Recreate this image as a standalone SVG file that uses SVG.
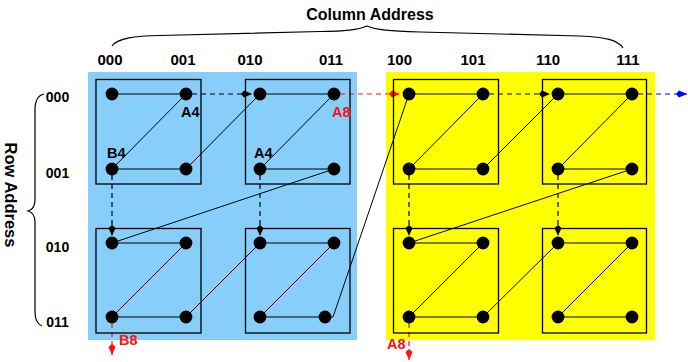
<svg xmlns="http://www.w3.org/2000/svg" width="688" height="362" viewBox="0 0 688 362">
<style>
text{font-family:"Liberation Sans",Arial,sans-serif;font-weight:bold;fill:#000}
.col{font-size:15px;text-anchor:middle}
.row{font-size:14px;text-anchor:middle}
.lbl{font-size:14.5px}
.red{fill:#ff1010}
.box{fill:none;stroke:#000;stroke-width:1.3}
.dot{fill:#000}
.ln{fill:none;stroke:#000;stroke-width:1}
.brace{fill:none;stroke:#000;stroke-width:1.2}
.dk{fill:none;stroke:#000;stroke-width:1.2;stroke-dasharray:5 4;marker-end:url(#ak)}
.dr{fill:none;stroke:#ff1010;stroke-width:1.2;stroke-dasharray:5 4;marker-end:url(#ar)}
.db{fill:none;stroke:#0000ff;stroke-width:1.2;stroke-dasharray:5 4;marker-end:url(#ab)}
</style>
<defs>
<marker id="ak" markerUnits="userSpaceOnUse" viewBox="-12 -5 13 10" refX="0" refY="0" markerWidth="13" markerHeight="10" orient="auto"><path d="M0,0 L-8,-3.5 L-11,0 L-8,3.5 Z" fill="#000"/></marker>
<marker id="ar" markerUnits="userSpaceOnUse" viewBox="-12 -5 13 10" refX="0" refY="0" markerWidth="13" markerHeight="10" orient="auto"><path d="M0,0 L-8,-3.5 L-11,0 L-8,3.5 Z" fill="#ff1010"/></marker>
<marker id="ab" markerUnits="userSpaceOnUse" viewBox="-12 -5 13 10" refX="0" refY="0" markerWidth="13" markerHeight="10" orient="auto"><path d="M0,0 L-8,-3.5 L-11,0 L-8,3.5 Z" fill="#0000ff"/></marker>
</defs>
<rect width="688" height="362" fill="#fff"/>
<g id="regions">
<rect x="88" y="72" width="269" height="268" fill="#87cefa"/>
<rect x="386" y="72" width="269" height="268" fill="#ffff00"/>
</g>
<g id="axes">
<text x="370" y="20" style="font-size:16px;text-anchor:middle">Column Address</text>
<path class="brace" d="M112,46 C118,38 135,36 160,35.5 L320,31.5 C345,31 358,30 367,26 C376,30 390,31 420,32 L580,36 C605,37 618,40 623,48"/>
<text class="col" x="110" y="65">000</text>
<text class="col" x="183" y="65">001</text>
<text class="col" x="250" y="65">010</text>
<text class="col" x="331" y="65">011</text>
<text class="col" x="399.5" y="65">100</text>
<text class="col" x="473" y="65">101</text>
<text class="col" x="548" y="65">110</text>
<text class="col" x="628" y="65">111</text>
<text transform="translate(5,195) rotate(90)" style="font-size:16.5px;text-anchor:middle">Row Address</text>
<path class="brace" d="M44,94 Q35,96 35,110 L35,200 Q35,209 28,211 Q35,213 35,222 L35,312 Q35,323 42,326"/>
<text class="row" x="57.5" y="102">000</text>
<text class="row" x="57.5" y="177.5">001</text>
<text class="row" x="57.5" y="252">010</text>
<text class="row" x="57.5" y="327">011</text>
</g>
<g id="connectors">
<path class="ln" d="M112,94 L186,94 L112,169 L186,169 L260,94 L334,94 L260,169 L334,169 L112,243 L186,243 L112,317 L186,317 L260,243 L334,243 L260,317 L333,317 L409,94 L483,94 L409,169 L483,169 L558,94 L632,94 L558,169 L632,169 L409,243 L483,243 L409,317 L483,317 L558,243 L632,243 L558,317 L632,317"/>
<path class="dk" d="M192,94 L252,94"/>
<path class="dk" d="M489,94 L550,94"/>
<path class="dr" d="M340,94 L400,94"/>
<path class="db" d="M638,94 L687,94"/>
<path class="dk" d="M112,175 L112,236"/>
<path class="dk" d="M260,175 L260,236"/>
<path class="dk" d="M409,175 L409,236"/>
<path class="dk" d="M558,175 L558,236"/>
<path class="dr" d="M112,323 L112,355"/>
<path class="dr" d="M409,323 L409,360"/>
</g>
<g id="block-000-000">
<rect class="box" x="96" y="79.5" width="105" height="104.5"/>
<circle class="dot" cx="112" cy="94" r="6.4"/><circle class="dot" cx="186" cy="94" r="6.4"/>
<circle class="dot" cx="112" cy="169" r="6.4"/><circle class="dot" cx="186" cy="169" r="6.4"/>
</g>
<g id="block-000-010">
<rect class="box" x="245.5" y="79.5" width="104.5" height="104.5"/>
<circle class="dot" cx="260" cy="94" r="6.4"/><circle class="dot" cx="334" cy="94" r="6.4"/>
<circle class="dot" cx="260" cy="169" r="6.4"/><circle class="dot" cx="334" cy="169" r="6.4"/>
</g>
<g id="block-010-000">
<rect class="box" x="96" y="228.5" width="105" height="104.5"/>
<circle class="dot" cx="112" cy="243" r="6.4"/><circle class="dot" cx="186" cy="243" r="6.4"/>
<circle class="dot" cx="112" cy="317" r="6.4"/><circle class="dot" cx="186" cy="317" r="6.4"/>
</g>
<g id="block-010-010">
<rect class="box" x="245.5" y="228.5" width="104.5" height="104.5"/>
<circle class="dot" cx="260" cy="243" r="6.4"/><circle class="dot" cx="334" cy="243" r="6.4"/>
<circle class="dot" cx="260" cy="317" r="6.4"/><circle class="dot" cx="325" cy="317" r="6.4"/>
</g>
<g id="block-000-100">
<rect class="box" x="393.5" y="79.5" width="105" height="104.5"/>
<circle class="dot" cx="409" cy="94" r="6.4"/><circle class="dot" cx="483" cy="94" r="6.4"/>
<circle class="dot" cx="409" cy="169" r="6.4"/><circle class="dot" cx="483" cy="169" r="6.4"/>
</g>
<g id="block-000-110">
<rect class="box" x="542.5" y="79.5" width="104" height="104.5"/>
<circle class="dot" cx="558" cy="94" r="6.4"/><circle class="dot" cx="632" cy="94" r="6.4"/>
<circle class="dot" cx="558" cy="169" r="6.4"/><circle class="dot" cx="632" cy="169" r="6.4"/>
</g>
<g id="block-010-100">
<rect class="box" x="393.5" y="228.5" width="105" height="104.5"/>
<circle class="dot" cx="409" cy="243" r="6.4"/><circle class="dot" cx="483" cy="243" r="6.4"/>
<circle class="dot" cx="409" cy="317" r="6.4"/><circle class="dot" cx="483" cy="317" r="6.4"/>
</g>
<g id="block-010-110">
<rect class="box" x="542.5" y="228.5" width="104" height="104.5"/>
<circle class="dot" cx="558" cy="243" r="6.4"/><circle class="dot" cx="632" cy="243" r="6.4"/>
<circle class="dot" cx="558" cy="317" r="6.4"/><circle class="dot" cx="632" cy="317" r="6.4"/>
</g>
<g id="labels">
<text class="lbl" x="181" y="117">A4</text>
<text class="lbl" x="107" y="158">B4</text>
<text class="lbl" x="254" y="158">A4</text>
<text class="lbl red" x="332" y="117">A8</text>
<text class="lbl red" x="119" y="345">B8</text>
<text class="lbl red" x="387" y="349">A8</text>
</g>
</svg>
